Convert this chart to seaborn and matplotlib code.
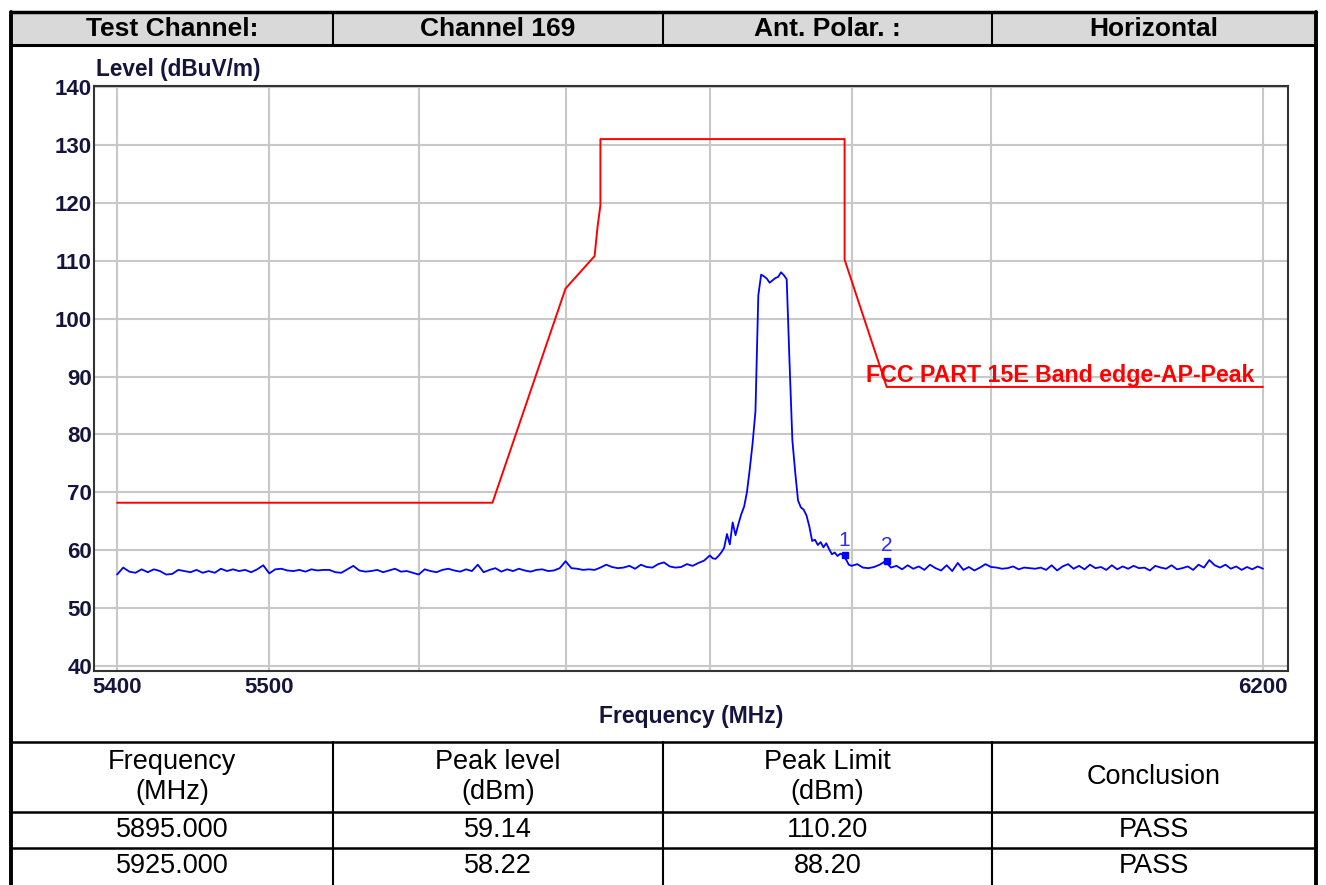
import numpy as np
import pandas as pd
import matplotlib
matplotlib.use('Agg')
import matplotlib.pyplot as plt
from matplotlib.patches import Rectangle
import seaborn as sns

# measured trace (dBuV/m), three frequency segments
seg_a_freq = np.arange(5400, 5797, 4)
seg_a_level = [
    55.8, 57.0, 56.3, 56.1, 56.7, 56.2, 56.7, 56.4, 55.8, 55.9, 56.6, 56.4, 56.2,
    56.6, 56.1, 56.4, 56.1, 56.8, 56.4, 56.7, 56.4, 56.6, 56.2, 56.7, 57.4, 56.0,
    56.7, 56.8, 56.5, 56.4, 56.6, 56.3, 56.7, 56.5, 56.6, 56.6, 56.2, 56.1, 56.7,
    57.3, 56.5, 56.3, 56.4, 56.6, 56.2, 56.5, 56.8, 56.3, 56.4, 56.1, 55.8,
    56.7, 56.4, 56.2, 56.6, 56.8, 56.5, 56.3, 56.7, 56.4, 57.5, 56.2, 56.6, 56.9,
    56.3, 56.7, 56.4, 56.8, 56.5, 56.3, 56.6, 56.7, 56.4, 56.5, 56.9, 58.1,
    56.9, 56.8, 56.6, 56.7, 56.6, 57.0, 57.5, 57.1, 56.9, 57.0, 57.3, 56.8,
    57.5, 57.1, 57.0, 57.6, 57.9, 57.2, 57.0, 57.1, 57.6, 57.3, 57.8, 58.2,
]
seg_b_freq = np.arange(5800, 5901, 2)
seg_b_level = [
    59.1, 58.6, 58.5, 59.0, 59.6, 60.4, 62.8, 61.0, 64.8, 62.6,
    64.5, 66.2, 67.5, 70.0, 74.0, 78.5, 84.0, 104.0, 107.6, 107.3,
    106.9, 106.2, 106.6, 107.0, 107.2, 108.0, 107.5, 106.8, 92.5, 79.0,
    73.5, 68.6, 67.4, 67.0, 66.0, 64.1, 61.6, 61.8, 60.9, 61.4,
    60.5, 61.2, 60.2, 59.3, 59.6, 59.0, 59.4, 59.2, 58.4, 57.5,
    57.3,
]
seg_c_freq = np.arange(5904, 6201, 4)
seg_c_level = [
    57.6, 57.0, 56.9, 57.1, 57.5, 58.1, 57.0, 57.3, 56.7, 57.4, 56.8, 57.2, 56.6,
    57.5, 56.9, 56.5, 57.4, 56.4, 57.8, 56.6, 57.1, 56.5, 57.0, 57.6, 57.1,
    57.0, 56.8, 56.9, 57.2, 56.7, 57.0, 56.9, 56.8, 57.0, 56.6, 57.4, 56.5, 57.2,
    57.6, 56.8, 57.3, 56.7, 57.5, 56.9, 57.1, 56.6, 57.4, 56.7, 57.2, 56.8,
    57.3, 56.9, 57.0, 56.5, 57.3, 57.0, 56.8, 57.4, 56.7, 56.9, 57.2, 56.6, 57.5,
    57.0, 58.3, 57.4, 57.0, 57.5, 56.8, 57.2, 56.6, 57.1, 56.7, 57.2, 56.8,
]

# limit line
limit_freq = [5400, 5650, 5700, 5720, 5722, 5724, 5724, 5895, 5895, 5925, 6200]
limit_level = [68.2, 68.2, 105.2, 110.8, 115.8, 119.6, 131.0, 131.0, 110.2, 88.2, 88.2]
limit_name = 'FCC PART 15E Band edge-AP-Peak'

# markers / result table
marker_id = ['1', '2']
marker_freq = [5895.0, 5925.0]
marker_level = [59.14, 58.22]
marker_limit = [110.20, 88.20]
marker_result = ['PASS', 'PASS']

header_cells = ['Test Channel:', 'Channel 169', 'Ant. Polar. :', 'Horizontal']
table_cols = ['Frequency\n(MHz)', 'Peak level\n(dBm)', 'Peak Limit\n(dBm)', 'Conclusion']

x_ticks = [5400, 5500, 6200]
x_grid = [5400, 5500, 5600, 5700, 5800, 5900, 6000, 6200]
y_ticks = list(range(40, 141, 10))

trace = pd.DataFrame({
    'freq': np.concatenate([seg_a_freq, seg_b_freq, seg_c_freq]),
    'level': seg_a_level + seg_b_level + seg_c_level,
})
limit = pd.DataFrame({'freq': limit_freq, 'level': limit_level})

sns.set_style('white')
plt.rcParams['font.family'] = ['Liberation Sans', 'DejaVu Sans']
plt.rcParams['text.color'] = 'black'
ink = '#14143c'

W, H = 1326, 885
fig = plt.figure(figsize=(W / 100, H / 100), dpi=100)

# page / table frame in pixel coordinates
bg = fig.add_axes([0, 0, 1, 1])
bg.set_xlim(0, W)
bg.set_ylim(H, 0)
bg.axis('off')

col_edges = [11, 333, 663, 992, 1316]
bg.add_patch(Rectangle((11, 12), 1305, 33, facecolor='#d9d9d9', edgecolor='none', zorder=0))
bg.plot([11, 1316], [12, 12], color='black', lw=2.5)
bg.plot([11, 1316], [45, 45], color='black', lw=2.2)
bg.plot([11, 11], [12, H], color='black', lw=2.8)
bg.plot([1316, 1316], [12, H], color='black', lw=2.8)
for xe in col_edges[1:-1]:
    bg.plot([xe, xe], [12, 45], color='black', lw=1.5)
    bg.plot([xe, xe], [742, H], color='black', lw=1.5)
for ye in [742, 812, 848]:
    bg.plot([11, 1316], [ye, ye], color='black', lw=1.8)

for i, txt in enumerate(header_cells):
    cx = (col_edges[i] + col_edges[i + 1]) / 2
    bg.text(cx, 29, txt, ha='center', va='center', fontsize=19, fontweight='bold', color='black')

for i, txt in enumerate(table_cols):
    cx = (col_edges[i] + col_edges[i + 1]) / 2
    bg.text(cx, 777, txt, ha='center', va='center', fontsize=19.5, linespacing=1.2, color='black')

rows = [
    ['%.3f' % marker_freq[k], '%.2f' % marker_level[k], '%.2f' % marker_limit[k], marker_result[k]]
    for k in range(len(marker_freq))
]
for r, row in enumerate(rows):
    cy = [830, 866][r]
    for i, txt in enumerate(row):
        cx = (col_edges[i] + col_edges[i + 1]) / 2
        bg.text(cx, cy, txt, ha='center', va='center', fontsize=19.5, color='black')

# chart
ax = fig.add_axes([94 / W, 1 - 671 / H, 1194 / W, 585 / H])
ax.set_xscale('log')

for g in x_grid:
    ax.axvline(g, color='#c8c8c8', lw=1.5, zorder=0)
for g in y_ticks:
    ax.axhline(g, color='#c8c8c8', lw=1.5, zorder=0)

sns.lineplot(data=limit, x='freq', y='level', ax=ax, color='#ff0000', lw=1.4,
             estimator=None, sort=False, zorder=3)
sns.lineplot(data=trace, x='freq', y='level', ax=ax, color='#0000ff', lw=1.3,
             estimator=None, sort=False, zorder=4)

ax.plot(marker_freq, marker_level, 's', color='#0000ff', ms=4, zorder=5)
for mid, mf, ml in zip(marker_id, marker_freq, marker_level):
    ax.annotate(mid, (mf, ml), xytext=(0, 4), textcoords='offset points',
                ha='center', va='bottom', fontsize=15, color='#2a2aff')

ax.text(5910, 89.1, limit_name, color='#ff0000', fontsize=16.7, fontweight='bold',
        va='baseline', ha='left', zorder=6)

ax.set_xlim(5385, 6218.7)
ax.set_ylim(39.14, 140.17)
ax.minorticks_off()
ax.set_xticks(x_ticks)
ax.set_xticklabels([str(t) for t in x_ticks])
ax.set_yticks(y_ticks)
ax.set_yticklabels([str(t) for t in y_ticks])
ax.minorticks_off()
ax.tick_params(axis='both', length=0, labelsize=16, labelcolor=ink)
ax.tick_params(axis='x', pad=4)
ax.tick_params(axis='y', pad=1.5)
for lab in ax.get_xticklabels() + ax.get_yticklabels():
    lab.set_fontweight('bold')

ax.set_xlabel('Frequency (MHz)', fontsize=16.5, fontweight='bold', color=ink, labelpad=5)
ax.set_ylabel('')
fig.text(96 / W, 1 - 81 / H, 'Level (dBuV/m)', fontsize=16.3, fontweight='bold',
         color=ink, ha='left', va='bottom')

for sp in ax.spines.values():
    sp.set_color('#333333')
    sp.set_linewidth(1.5)

fig.savefig('out.png', dpi=100)
